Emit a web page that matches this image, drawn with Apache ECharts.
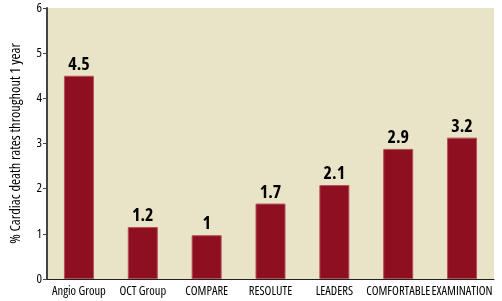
<!DOCTYPE html>
<html><head><meta charset="utf-8">
<script src="https://cdn.jsdelivr.net/npm/echarts@6/dist/echarts.min.js"></script>
<style>html,body{margin:0;padding:0;background:#fff}#c{width:502px;height:301px}</style>
</head><body><div id="c"></div>
<script>
const categories = ['Angio Group','OCT Group','COMPARE','RESOLUTE','LEADERS','COMFORTABLE','EXAMINATION'];
const values = [4.5, 1.2, 1, 1.7, 2.1, 2.9, 3.2];
const barHeights = [4.5, 1.15, 0.97, 1.67, 2.08, 2.88, 3.13];
const yTicks = [0,1,2,3,4,5,6];
const yTitle = '% Cardiac death rates throughout 1 year';
const FONT = '"Open Sans"';
const chart = echarts.init(document.getElementById('c'));
chart.setOption({
  animation:false,
  backgroundColor:'#ffffff',
  grid:{left:38,right:8,top:8,bottom:22,show:true,backgroundColor:'#e9e4c7',borderWidth:0},
  xAxis:{type:'category',data:categories,
    axisLine:{lineStyle:{color:'#222',width:1}},axisTick:{show:false},
    axisLabel:{fontFamily:FONT,fontWeight:'normal condensed',fontSize:12.5,color:'#000',margin:6,interval:0}},
  yAxis:{type:'value',min:0,max:6,interval:1,
    name:yTitle,nameLocation:'middle',nameGap:24,nameRotate:90,
    nameTextStyle:{fontFamily:FONT,fontWeight:'normal condensed',fontSize:14.5,color:'#000'},
    axisLine:{show:true,lineStyle:{color:'#444',width:2}},
    axisTick:{show:true,length:4,lineStyle:{color:'#444',width:1}},
    splitLine:{show:false},
    axisLabel:{fontFamily:FONT,fontWeight:'normal condensed',fontSize:13,color:'#000',margin:5,
      formatter:v=>yTicks.includes(v)?String(v):''}},
  series:[{type:'bar',barWidth:30,
    data:barHeights.map((h,i)=>({value:h,label:{formatter:String(values[i])}})),
    itemStyle:{color:'#8e1020',borderColor:'#b5505a',borderWidth:1},
    label:{show:true,position:'top',distance:2,fontFamily:FONT,fontWeight:'bold condensed',fontSize:18,color:'#000'}}]
});
</script></body></html>
